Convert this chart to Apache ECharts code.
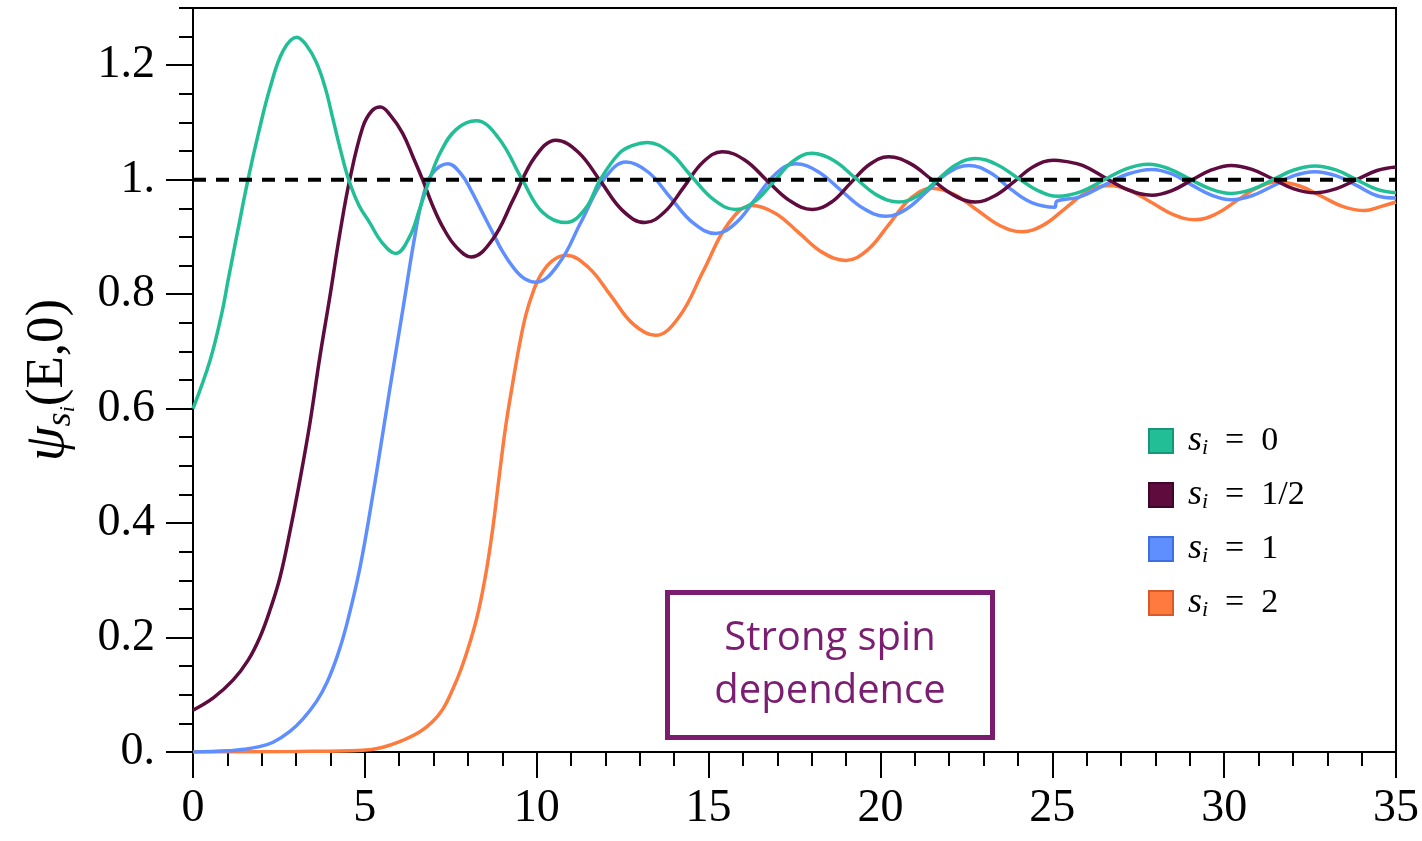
<!DOCTYPE html>
<html>
<head>
<meta charset="utf-8">
<script src="https://cdn.jsdelivr.net/npm/echarts@6/dist/echarts.min.js"></script>
<style>
html,body{margin:0;padding:0;background:#fff;}
#chart{width:1422px;height:841px;}
</style>
</head>
<body>
<div id="chart"></div>
<script>
// ---- data ----
const seriesLabels = ['0', '1/2', '1', '2'];
const seriesColors = ['#22BF96', '#5E0B3D', '#5F8FFF', '#FF7A3D'];
const legendBorders = ['#17967A', '#3E0628', '#3F6FDF', '#D9592A'];

const psiS0 = [[0,0.60],[0.5,0.685],[0.85,0.77],[1.02,0.824],[1.3,0.91],[1.6,1.0],[1.9,1.08],[2.24,1.16],[2.62,1.225],[3.02,1.249],[3.3,1.235],[3.59,1.205],[3.85,1.16],[4.08,1.104],[4.3,1.05],[4.53,1.0],[4.83,0.955],[5.14,0.925],[5.5,0.89],[5.9,0.871],[6.3,0.9],[6.6,0.95],[6.88,1.0],[7.2,1.048],[7.66,1.088],[8.24,1.103],[8.9,1.072],[9.58,1.0],[10.17,0.943],[10.85,0.925],[11.4,0.948],[11.85,1.0],[12.4,1.046],[12.8,1.06],[13.22,1.065],[13.86,1.048],[14.5,1.006],[15.15,0.965],[15.79,0.948],[16.34,0.962],[16.9,0.997],[17.45,1.032],[18.0,1.046],[18.63,1.034],[19.27,1.003],[19.9,0.973],[20.53,0.961],[21.09,0.972],[21.65,0.999],[22.2,1.026],[22.76,1.037],[23.37,1.027],[23.97,1.004],[24.58,0.981],[25.18,0.971],[25.84,0.979],[26.49,0.999],[27.15,1.019],[27.8,1.027],[28.4,1.019],[29.0,1.001],[29.6,0.984],[30.2,0.976],[30.81,0.983],[31.42,1.0],[32.03,1.017],[32.64,1.024],[33.25,1.017],[33.85,1.0],[34.45,0.983],[35,0.977]];

const psiS12 = [[0,0.073],[0.6,0.095],[1.17,0.126],[1.6,0.16],[1.95,0.201],[2.24,0.248],[2.53,0.305],[2.82,0.385],[3.11,0.475],[3.4,0.574],[3.69,0.69],[3.98,0.795],[4.27,0.905],[4.56,1.0],[4.94,1.092],[5.2,1.12],[5.45,1.127],[5.75,1.112],[6.1,1.081],[6.4,1.04],[6.68,1.0],[6.97,0.955],[7.26,0.918],[7.65,0.883],[8.09,0.865],[8.71,0.895],[9.33,0.967],[9.94,1.039],[10.56,1.069],[11.21,1.048],[11.86,0.997],[12.5,0.946],[13.15,0.925],[13.71,0.943],[14.28,0.987],[14.84,1.031],[15.4,1.049],[16.06,1.034],[16.71,0.998],[17.37,0.963],[18.02,0.948],[18.58,0.961],[19.13,0.994],[19.69,1.027],[20.24,1.04],[20.87,1.028],[21.5,1.0],[22.13,0.973],[22.76,0.961],[23.33,0.972],[23.9,0.997],[24.46,1.023],[25.03,1.034],[25.37,1.032],[25.88,1.025],[26.55,1.003],[27.22,0.982],[27.9,0.973],[28.48,0.981],[29.05,0.999],[29.63,1.017],[30.2,1.025],[30.81,1.018],[31.42,1.001],[32.03,0.984],[32.64,0.977],[33.25,0.984],[33.85,1.0],[34.45,1.016],[35,1.022]];

const psiS1 = [[0,0],[1.0,0.002],[1.5,0.005],[1.9,0.009],[2.33,0.017],[2.82,0.036],[3.2,0.058],[3.59,0.088],[3.9,0.122],[4.2,0.168],[4.46,0.22],[4.85,0.32],[5.24,0.452],[5.53,0.56],[5.72,0.632],[6.11,0.775],[6.45,0.9],[6.69,0.97],[6.95,1.01],[7.42,1.028],[7.8,1.01],[8.06,0.985],[8.4,0.945],[8.7,0.91],[9.0,0.875],[9.34,0.845],[9.65,0.827],[9.98,0.821],[10.64,0.853],[11.29,0.926],[11.95,1.0],[12.6,1.031],[13.25,1.013],[13.9,0.968],[14.56,0.924],[15.21,0.906],[15.79,0.924],[16.37,0.967],[16.95,1.01],[17.53,1.028],[18.19,1.014],[18.84,0.982],[19.5,0.95],[20.15,0.936],[20.76,0.949],[21.36,0.98],[21.97,1.012],[22.57,1.025],[23.2,1.012],[23.8,0.983],[24.4,0.96],[25.08,0.952],[25.12,0.962],[25.8,0.97],[26.5,0.99],[27.2,1.01],[27.9,1.018],[28.48,1.01],[29.05,0.991],[29.63,0.973],[30.2,0.965],[30.81,0.972],[31.42,0.989],[32.03,1.007],[32.64,1.014],[33.25,1.007],[33.85,0.99],[34.45,0.972],[35,0.968]];

const psiS2 = [[0,0],[3,0.001],[4.94,0.003],[5.5,0.008],[6.01,0.018],[6.59,0.035],[6.95,0.052],[7.27,0.075],[7.56,0.11],[7.8,0.145],[8.05,0.19],[8.3,0.245],[8.53,0.315],[8.72,0.39],[8.92,0.487],[9.1,0.57],[9.3,0.644],[9.5,0.712],[9.69,0.765],[9.9,0.805],[10.1,0.832],[10.45,0.858],[10.85,0.868],[11.5,0.847],[12.15,0.798],[12.8,0.748],[13.45,0.728],[14.15,0.761],[14.86,0.842],[15.56,0.922],[16.27,0.955],[16.95,0.941],[17.63,0.907],[18.31,0.873],[18.99,0.859],[19.62,0.877],[20.25,0.922],[20.87,0.967],[21.5,0.985],[22.16,0.974],[22.81,0.947],[23.47,0.92],[24.12,0.909],[24.75,0.921],[25.38,0.95],[26.0,0.978],[26.63,0.99],[27.26,0.981],[27.89,0.96],[28.52,0.939],[29.15,0.93],[29.76,0.94],[30.36,0.963],[30.97,0.986],[31.57,0.996],[32.2,0.989],[32.83,0.971],[33.46,0.953],[34.09,0.946],[34.55,0.953],[35,0.961]];

const referenceLine = [[0,1],[35,1]];

const yTickValues = [0,0.2,0.4,0.6,0.8,1.0,1.2];
const yTickLabels = ['0.','0.2','0.4','0.6','0.8','1.','1.2'];
const yMinorValues = [0,0.05,0.1,0.15,0.2,0.25,0.3,0.35,0.4,0.45,0.5,0.55,0.6,0.65,0.7,0.75,0.8,0.85,0.9,0.95,1.0,1.05,1.1,1.15,1.2,1.25,1.3];

const annotationLines = ['Strong spin', 'dependence'];

// ---- chart ----
const allData = [psiS0, psiS12, psiS1, psiS2];
const chart = echarts.init(document.getElementById('chart'), null, {renderer: 'canvas'});
const serif = 'Liberation Serif';

const series = allData.map((d, i) => ({
  name: seriesLabels[i],
  type: 'line',
  data: d,
  smooth: 0.4,
  symbol: 'none',
  lineStyle: {width: 3.5, color: seriesColors[i]},
  itemStyle: {color: seriesColors[i]},
  z: 3 + (allData.length - i),
  animation: false
}));
series.unshift({
  name: 'ref',
  type: 'line',
  data: referenceLine,
  symbol: 'none',
  lineStyle: {width: 4, color: '#000', type: [13, 10]},
  z: 10,
  silent: true,
  animation: false
});

const option = {
  animation: false,
  backgroundColor: '#fff',
  grid: {left: 193, right: 24, top: 8, bottom: 89, show: true, borderColor: '#000', borderWidth: 2, containLabel: false},
  xAxis: [{
    type: 'value', min: 0, max: 35, interval: 5,
    axisLine: {show: true, onZero: false, lineStyle: {color: '#000', width: 2}},
    axisTick: {show: true, inside: false, length: 26, lineStyle: {color: '#000', width: 2}},
    minorTick: {show: true, splitNumber: 5, length: 14, lineStyle: {color: '#000', width: 2}},
    splitLine: {show: false},
    axisLabel: {margin: 34, fontSize: 46, fontFamily: serif, color: '#000'}
  }],
  yAxis: [{
    type: 'value', min: 0, max: 1.3, interval: 0.2,
    axisLine: {show: true, onZero: false, lineStyle: {color: '#000', width: 2}},
    axisTick: {show: true, inside: false, length: 27, customValues: yTickValues, lineStyle: {color: '#000', width: 2}},
    splitLine: {show: false},
    axisLabel: {
      margin: 38, fontSize: 46, fontFamily: serif, color: '#000',
      customValues: yTickValues,
      formatter: v => {
        const k = yTickValues.findIndex(t => Math.abs(t - v) < 1e-6);
        return k >= 0 ? yTickLabels[k] : '';
      }
    },
    name: '{psi|ψ}{s|s}{i|i}{n|(E,0)}',
    nameLocation: 'middle',
    nameRotate: 90,
    nameGap: 114,
    nameTextStyle: {
      color: '#000',
      rich: {
        psi: {fontSize: 56, fontFamily: serif, fontStyle: 'italic', lineHeight: 62, verticalAlign: 'middle'},
        s: {fontSize: 36, fontFamily: serif, fontStyle: 'italic', lineHeight: 36, verticalAlign: 'bottom'},
        i: {fontSize: 22, fontFamily: serif, fontStyle: 'italic', lineHeight: 18, verticalAlign: 'bottom'},
        n: {fontSize: 53, fontFamily: serif, lineHeight: 62, verticalAlign: 'middle'}
      }
    }
  }, {
    type: 'value', min: 0, max: 1.3, position: 'left',
    axisLine: {show: false},
    axisTick: {show: true, inside: false, length: 14, customValues: yMinorValues, lineStyle: {color: '#000', width: 2}},
    axisLabel: {show: false},
    splitLine: {show: false}
  }],
  legend: {
    orient: 'vertical',
    left: 1143, top: 418,
    itemWidth: 24, itemHeight: 24, itemGap: 18,
    icon: 'rect',
    data: seriesLabels.map((n, i) => ({
      name: n, icon: 'rect',
      itemStyle: {color: seriesColors[i], borderColor: legendBorders[i], borderWidth: 2}
    })),
    formatter: name => '{s|s}{i|i}{t|  =  ' + name + '}',
    textStyle: {
      color: '#000',
      padding: [0, 0, 0, 10],
      rich: {
        s: {fontSize: 36, fontFamily: serif, fontStyle: 'italic', lineHeight: 36, verticalAlign: 'middle'},
        i: {fontSize: 22, fontFamily: serif, fontStyle: 'italic', lineHeight: 12, verticalAlign: 'bottom'},
        t: {fontSize: 34, fontFamily: serif, lineHeight: 36, verticalAlign: 'middle'}
      }
    },
    selectedMode: false
  },
  graphic: [{
    type: 'group',
    left: 665, top: 590,
    children: [{
      type: 'rect',
      shape: {x: 0, y: 0, width: 325, height: 145},
      style: {fill: '#fff', stroke: '#7A1C6F', lineWidth: 5}
    }, {
      type: 'text',
      x: 162.5, y: 73,
      style: {
        text: annotationLines.join('\n'),
        fontSize: 40, lineHeight: 53, fontFamily: 'Open Sans',
        fill: '#7B1E72', align: 'center', verticalAlign: 'middle'
      }
    }]
  }],
  series: series
};
chart.setOption(option);
</script>
</body>
</html>
